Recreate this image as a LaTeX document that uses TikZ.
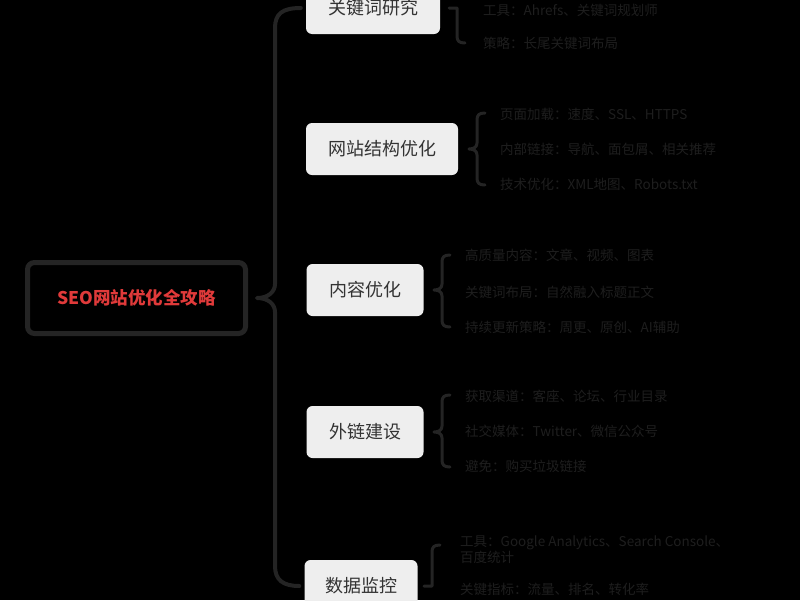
\documentclass[tikz,border=0pt]{standalone}
\usepackage{fontspec}
\setmainfont{Noto Sans CJK SC}
\usetikzlibrary{calc}
\definecolor{brc}{HTML}{242424}
\definecolor{boxfill}{HTML}{EEEEEE}
\definecolor{boxtext}{HTML}{333333}
\definecolor{leaftext}{HTML}{1E1E1E}
\definecolor{redtext}{HTML}{E03A3A}
\definecolor{rootborder}{HTML}{242424}
\tikzset{
  root/.style={draw=rootborder, line width=5pt, rounded corners=7pt, fill=black,
    minimum width=218pt, minimum height=71pt, inner sep=0pt, text=redtext,
    font=\fontsize{17.5}{20}\selectfont\bfseries},
  topic/.style={fill=boxfill, rounded corners=6pt, inner sep=0pt, minimum height=52pt,
    text=boxtext, font=\fontsize{18}{22}\selectfont},
  leaf/.style={anchor=west, inner sep=0pt, text=leaftext,
    font=\fontsize{13.5}{16}\selectfont, align=left},
  brace/.style={draw=brc, line width=3pt, line cap=round, line join=round},
  mainbrace/.style={brace, line width=4pt},
}
\newcommand\leafbr[4]{% x, ytop, ybot, ymid
  \draw[brace] ({#1+8},#2) .. controls ({#1+2},#2) and (#1,{#2+2}) .. (#1,{#2+7})
    -- (#1,{#4-6}) .. controls (#1,{#4-2}) and ({#1-3},#4) .. ({#1-8},#4)
    .. controls ({#1-3},#4) and (#1,{#4+2}) .. (#1,{#4+6})
    -- (#1,{#3-7}) .. controls (#1,{#3-2}) and ({#1+2},#3) .. ({#1+8},#3);}
\begin{document}
\begin{tikzpicture}[x=1pt,y=-1pt]
\useasboundingbox (0,0) rectangle (800,600);
\fill[black] (0,0) rectangle (800,600);

% root
\node[root] (c) at (136.5,298) {SEO网站优化全攻略};

% topics
\node[topic, minimum width=134pt] (b1) at (373,8) {关键词研究};
\node[topic, minimum width=152pt] (b2) at (382,149) {网站结构优化};
\node[topic, minimum width=117pt] (b3) at (365,290) {内容优化};
\node[topic, minimum width=117pt] (b4) at (365,432) {外链建设};
\node[topic, minimum width=113pt] (b5) at (361,586) {数据监控};

% main brace
\draw[mainbrace] ([xshift=-5pt]b1.west) .. controls (282,8) and (275,14) .. (275,28)
  -- (275,284) .. controls (275,292) and (268,298) .. (257,298)
  .. controls (268,298) and (275,304) .. (275,312)
  -- (275,566) .. controls (275,580) and (283,586) .. ([xshift=-5pt]b5.west);

% leaves
\node[leaf] (l11) at (483,10) {工具：Ahrefs、关键词规划师};
\node[leaf] (l12) at (483,43) {策略：长尾关键词布局};

\node[leaf] (l21) at (500,114) {页面加载：速度、SSL、HTTPS};
\node[leaf] (l22) at (500,149) {内部链接：导航、面包屑、相关推荐};
\node[leaf] (l23) at (500,184) {技术优化：XML地图、Robots.txt};

\node[leaf] (l31) at (465,255) {高质量内容：文章、视频、图表};
\node[leaf] (l32) at (465,292) {关键词布局：自然融入标题正文};
\node[leaf] (l33) at (465,327) {持续更新策略：周更、原创、AI辅助};

\node[leaf] (l41) at (465,396) {获取渠道：客座、论坛、行业目录};
\node[leaf] (l42) at (465,431) {社交媒体：Twitter、微信公众号};
\node[leaf] (l43) at (465,466) {避免：购买垃圾链接};

\node[leaf] (l51) at (460,550) {工具：Google Analytics、Search Console、\\百度统计};
\node[leaf] (l52) at (460,589) {关键指标：流量、排名、转化率};

% leaf braces
\draw[brace] (449,8) -- (457,8) -- (457,36) .. controls (457,41) and (459,43) .. (465,43);
\leafbr{477}{113}{185}{149}
\leafbr{442}{255}{327}{290}
\leafbr{442}{395}{467}{432}
\draw[brace] (440,545) .. controls (434,545) and (432,547) .. (432,552) -- (432,586) -- (424,586);
\end{tikzpicture}
\end{document}
